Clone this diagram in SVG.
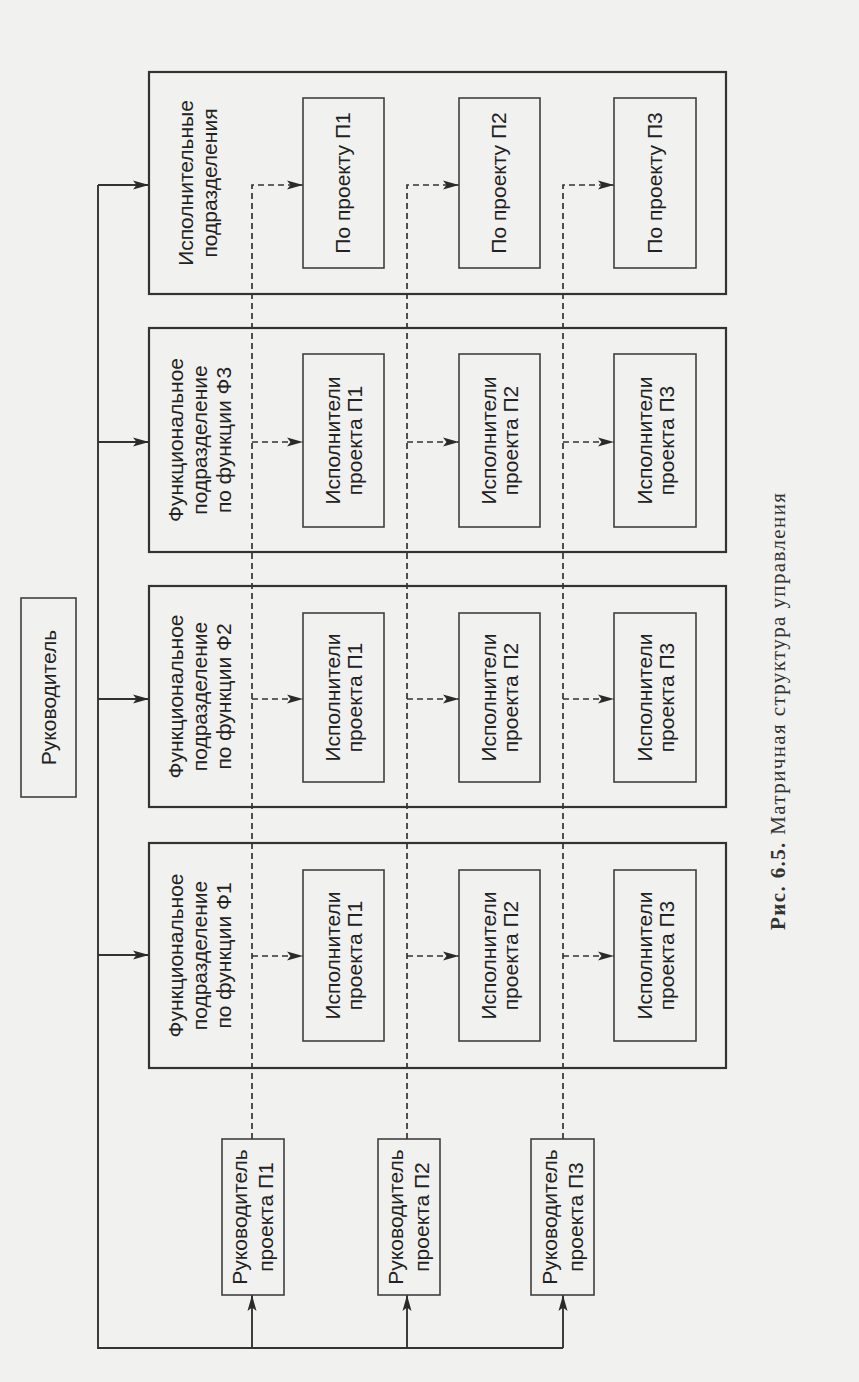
<svg xmlns="http://www.w3.org/2000/svg" width="859" height="1382" viewBox="0 0 859 1382">
<defs>
<style>
.bg{fill:#f1f1ef}
.outer{fill:none;stroke:#333;stroke-width:2.2}
.inner{fill:none;stroke:#404040;stroke-width:1.6}
.t{font-family:"Liberation Sans",Arial,sans-serif;font-size:21px;fill:#222;text-anchor:middle}
.solid{fill:none;stroke:#333;stroke-width:1.9}
.dash{fill:none;stroke:#333;stroke-width:1.7;stroke-dasharray:6 4}
.cap{font-family:"Liberation Serif","Times New Roman",serif;font-size:21px;fill:#333}
</style>
<marker id="ah" viewBox="0 0 16 10" refX="16" refY="5" markerWidth="16" markerHeight="10" markerUnits="userSpaceOnUse" orient="auto">
<path d="M0,0.5 L16,5 L0,9.5 L3.5,5 Z" fill="#2a2a2a"/>
</marker>
</defs>
<rect class="bg" x="0" y="0" width="859" height="1382"/>

<g id="connectors">
<path class="solid" d="M98,185 V1348 H563"/>
<line class="solid" x1="98" y1="185" x2="149" y2="185" marker-end="url(#ah)"/>
<line class="solid" x1="98" y1="442" x2="149" y2="442" marker-end="url(#ah)"/>
<line class="solid" x1="98" y1="699" x2="149" y2="699" marker-end="url(#ah)"/>
<line class="solid" x1="98" y1="955" x2="149" y2="955" marker-end="url(#ah)"/>
<line class="solid" x1="252" y1="1348" x2="252" y2="1295" marker-end="url(#ah)"/>
<line class="solid" x1="407" y1="1348" x2="407" y2="1295" marker-end="url(#ah)"/>
<line class="solid" x1="563" y1="1348" x2="563" y2="1295" marker-end="url(#ah)"/>
<path class="dash" d="M252,1139 V185 H303" marker-end="url(#ah)"/>
<path class="dash" d="M407,1139 V185 H459" marker-end="url(#ah)"/>
<path class="dash" d="M563,1139 V185 H614" marker-end="url(#ah)"/>
<line class="dash" x1="252" y1="442" x2="303" y2="442" marker-end="url(#ah)"/>
<line class="dash" x1="407" y1="442" x2="459" y2="442" marker-end="url(#ah)"/>
<line class="dash" x1="563" y1="442" x2="614" y2="442" marker-end="url(#ah)"/>
<line class="dash" x1="252" y1="699" x2="303" y2="699" marker-end="url(#ah)"/>
<line class="dash" x1="407" y1="699" x2="459" y2="699" marker-end="url(#ah)"/>
<line class="dash" x1="563" y1="699" x2="614" y2="699" marker-end="url(#ah)"/>
<line class="dash" x1="252" y1="956" x2="303" y2="956" marker-end="url(#ah)"/>
<line class="dash" x1="407" y1="956" x2="459" y2="956" marker-end="url(#ah)"/>
<line class="dash" x1="563" y1="956" x2="614" y2="956" marker-end="url(#ah)"/>
</g>

<g id="head">
<rect class="inner" x="21" y="598" width="55" height="199"/>
<text class="t" transform="translate(0,697.5) rotate(-90)"><tspan x="0" y="55.5">Руководитель</tspan></text>
</g>

<g id="exec">
<rect class="outer" x="149" y="72" width="577" height="222"/>
<text class="t" transform="translate(0,183) rotate(-90)"><tspan x="0" y="193">Исполнительные</tspan><tspan x="0" y="217">подразделения</tspan></text>
</g>
<g id="exec-p1">
<rect class="inner" x="303" y="98" width="81" height="170"/>
<text class="t" transform="translate(0,183) rotate(-90)"><tspan x="0" y="350">По проекту П1</tspan></text>
</g>
<g id="exec-p2">
<rect class="inner" x="459" y="98" width="81" height="170"/>
<text class="t" transform="translate(0,183) rotate(-90)"><tspan x="0" y="506">По проекту П2</tspan></text>
</g>
<g id="exec-p3">
<rect class="inner" x="614" y="98" width="82" height="170"/>
<text class="t" transform="translate(0,183) rotate(-90)"><tspan x="0" y="662">По проекту П3</tspan></text>
</g>

<g id="f3">
<rect class="outer" x="149" y="328" width="577" height="224"/>
<text class="t" transform="translate(0,440) rotate(-90)"><tspan x="0" y="183">Функциональное</tspan><tspan x="0" y="207">подразделение</tspan><tspan x="0" y="231">по функции Ф3</tspan></text>
</g>
<g id="f3-p1">
<rect class="inner" x="303" y="354" width="81" height="173"/>
<text class="t" transform="translate(0,440.5) rotate(-90)"><tspan x="0" y="339.5">Исполнители</tspan><tspan x="0" y="361.5">проекта П1</tspan></text>
</g>
<g id="f3-p2">
<rect class="inner" x="459" y="354" width="81" height="173"/>
<text class="t" transform="translate(0,440.5) rotate(-90)"><tspan x="0" y="495.5">Исполнители</tspan><tspan x="0" y="517.5">проекта П2</tspan></text>
</g>
<g id="f3-p3">
<rect class="inner" x="614" y="354" width="82" height="173"/>
<text class="t" transform="translate(0,440.5) rotate(-90)"><tspan x="0" y="651.5">Исполнители</tspan><tspan x="0" y="673.5">проекта П3</tspan></text>
</g>

<g id="f2">
<rect class="outer" x="149" y="586" width="577" height="221"/>
<text class="t" transform="translate(0,696.5) rotate(-90)"><tspan x="0" y="183">Функциональное</tspan><tspan x="0" y="207">подразделение</tspan><tspan x="0" y="231">по функции Ф2</tspan></text>
</g>
<g id="f2-p1">
<rect class="inner" x="303" y="613" width="81" height="169"/>
<text class="t" transform="translate(0,697.5) rotate(-90)"><tspan x="0" y="339.5">Исполнители</tspan><tspan x="0" y="361.5">проекта П1</tspan></text>
</g>
<g id="f2-p2">
<rect class="inner" x="459" y="613" width="81" height="169"/>
<text class="t" transform="translate(0,697.5) rotate(-90)"><tspan x="0" y="495.5">Исполнители</tspan><tspan x="0" y="517.5">проекта П2</tspan></text>
</g>
<g id="f2-p3">
<rect class="inner" x="614" y="613" width="82" height="169"/>
<text class="t" transform="translate(0,697.5) rotate(-90)"><tspan x="0" y="651.5">Исполнители</tspan><tspan x="0" y="673.5">проекта П3</tspan></text>
</g>

<g id="f1">
<rect class="outer" x="149" y="843" width="577" height="225"/>
<text class="t" transform="translate(0,955.5) rotate(-90)"><tspan x="0" y="183">Функциональное</tspan><tspan x="0" y="207">подразделение</tspan><tspan x="0" y="231">по функции Ф1</tspan></text>
</g>
<g id="f1-p1">
<rect class="inner" x="303" y="870" width="81" height="171"/>
<text class="t" transform="translate(0,955.5) rotate(-90)"><tspan x="0" y="339.5">Исполнители</tspan><tspan x="0" y="361.5">проекта П1</tspan></text>
</g>
<g id="f1-p2">
<rect class="inner" x="459" y="870" width="81" height="171"/>
<text class="t" transform="translate(0,955.5) rotate(-90)"><tspan x="0" y="495.5">Исполнители</tspan><tspan x="0" y="517.5">проекта П2</tspan></text>
</g>
<g id="f1-p3">
<rect class="inner" x="614" y="870" width="82" height="171"/>
<text class="t" transform="translate(0,955.5) rotate(-90)"><tspan x="0" y="651.5">Исполнители</tspan><tspan x="0" y="673.5">проекта П3</tspan></text>
</g>

<g id="pm1">
<rect class="inner" x="222" y="1139" width="62" height="156"/>
<text class="t" transform="translate(0,1217) rotate(-90)"><tspan x="0" y="247">Руководитель</tspan><tspan x="0" y="273">проекта П1</tspan></text>
</g>
<g id="pm2">
<rect class="inner" x="378" y="1139" width="62" height="156"/>
<text class="t" transform="translate(0,1217) rotate(-90)"><tspan x="0" y="403">Руководитель</tspan><tspan x="0" y="429">проекта П2</tspan></text>
</g>
<g id="pm3">
<rect class="inner" x="531" y="1139" width="63" height="156"/>
<text class="t" transform="translate(0,1217) rotate(-90)"><tspan x="0" y="556.5">Руководитель</tspan><tspan x="0" y="582.5">проекта П3</tspan></text>
</g>

<text class="cap" transform="translate(0,930) rotate(-90)" x="0" y="785" textLength="437" lengthAdjust="spacing"><tspan font-weight="bold">Рис. 6.5.</tspan> Матричная структура управления</text>
</svg>
